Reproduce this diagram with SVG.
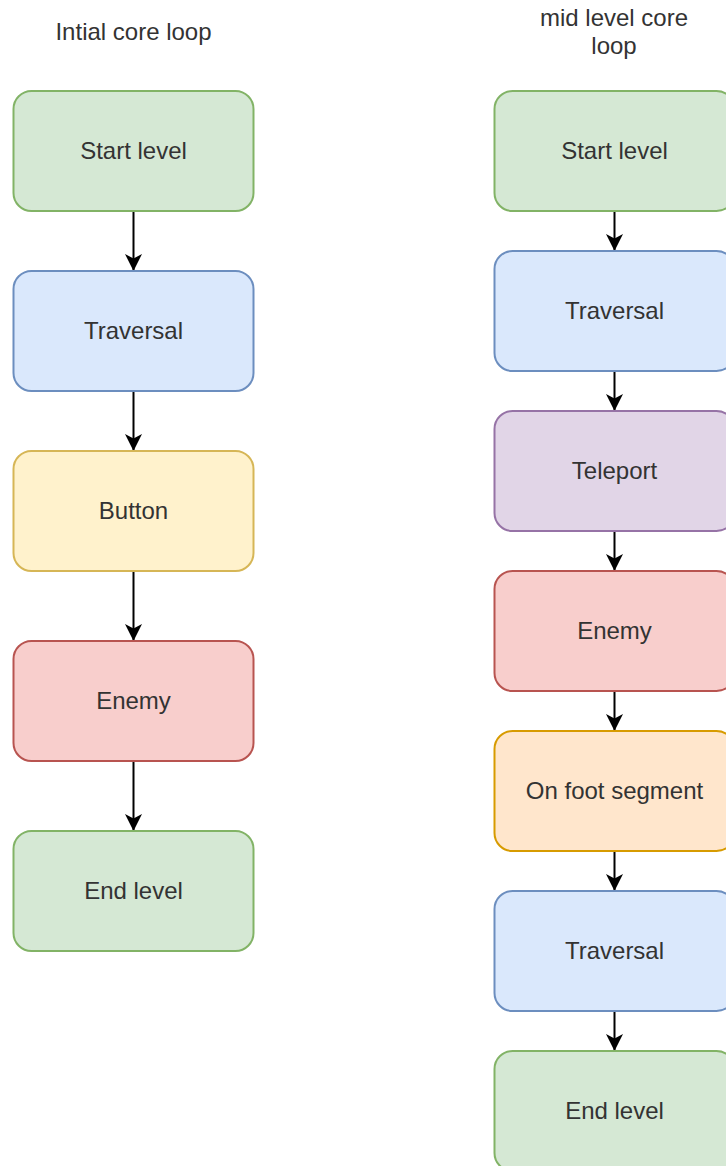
<svg xmlns="http://www.w3.org/2000/svg" width="726" height="1166" viewBox="0 0 726 1166">
<style>
  .box { stroke-width: 2; }
  .green { fill: #d5e8d4; stroke: #82b366; }
  .blue { fill: #dae8fc; stroke: #6c8ebf; }
  .yellow { fill: #fff2cc; stroke: #d6b656; }
  .red { fill: #f8cecc; stroke: #b85450; }
  .purple { fill: #e1d5e7; stroke: #9673a6; }
  .orange { fill: #ffe6cc; stroke: #d79b00; }
  text { font-family: "Liberation Sans", Arial, Helvetica, sans-serif; font-size: 24px; fill: #333333; text-anchor: middle; }
  .title { fill: #333333; }
  .edge { stroke: #000000; stroke-width: 2; fill: none; }
</style>
<defs>
  <marker id="arrow" markerUnits="userSpaceOnUse" markerWidth="18" markerHeight="18" refX="17" refY="8.5" orient="auto" viewBox="0 0 18 17">
    <path d="M0,0 L17,8.5 L0,17 L4.5,8.5 Z" fill="#000000"/>
  </marker>
</defs>
<rect width="726" height="1166" fill="#ffffff"/>
<g id="title-left"><text class="title" x="133.5" y="40">Intial core loop</text></g>
<g id="title-right"><text class="title" x="614" y="26">mid level core</text><text class="title" x="614" y="54">loop</text></g>

<g id="connectors">
  <line class="edge" x1="133.5" y1="211" x2="133.5" y2="271" marker-end="url(#arrow)"/>
  <line class="edge" x1="133.5" y1="391" x2="133.5" y2="451" marker-end="url(#arrow)"/>
  <line class="edge" x1="133.5" y1="571" x2="133.5" y2="641" marker-end="url(#arrow)"/>
  <line class="edge" x1="133.5" y1="761" x2="133.5" y2="831" marker-end="url(#arrow)"/>
  <line class="edge" x1="614.5" y1="211" x2="614.5" y2="251" marker-end="url(#arrow)"/>
  <line class="edge" x1="614.5" y1="371" x2="614.5" y2="411" marker-end="url(#arrow)"/>
  <line class="edge" x1="614.5" y1="531" x2="614.5" y2="571" marker-end="url(#arrow)"/>
  <line class="edge" x1="614.5" y1="691" x2="614.5" y2="731" marker-end="url(#arrow)"/>
  <line class="edge" x1="614.5" y1="851" x2="614.5" y2="891" marker-end="url(#arrow)"/>
  <line class="edge" x1="614.5" y1="1011" x2="614.5" y2="1051" marker-end="url(#arrow)"/>
</g>

<g id="l-start"><rect class="box green" x="13.5" y="91" width="240" height="120" rx="18"/><text x="133.5" y="159">Start level</text></g>
<g id="l-traversal"><rect class="box blue" x="13.5" y="271" width="240" height="120" rx="18"/><text x="133.5" y="339">Traversal</text></g>
<g id="l-button"><rect class="box yellow" x="13.5" y="451" width="240" height="120" rx="18"/><text x="133.5" y="519">Button</text></g>
<g id="l-enemy"><rect class="box red" x="13.5" y="641" width="240" height="120" rx="18"/><text x="133.5" y="709">Enemy</text></g>
<g id="l-end"><rect class="box green" x="13.5" y="831" width="240" height="120" rx="18"/><text x="133.5" y="899">End level</text></g>

<g id="r-start"><rect class="box green" x="494.5" y="91" width="240" height="120" rx="18"/><text x="614.5" y="159">Start level</text></g>
<g id="r-traversal1"><rect class="box blue" x="494.5" y="251" width="240" height="120" rx="18"/><text x="614.5" y="319">Traversal</text></g>
<g id="r-teleport"><rect class="box purple" x="494.5" y="411" width="240" height="120" rx="18"/><text x="614.5" y="479">Teleport</text></g>
<g id="r-enemy"><rect class="box red" x="494.5" y="571" width="240" height="120" rx="18"/><text x="614.5" y="639">Enemy</text></g>
<g id="r-onfoot"><rect class="box orange" x="494.5" y="731" width="240" height="120" rx="18"/><text x="614.5" y="799">On foot segment</text></g>
<g id="r-traversal2"><rect class="box blue" x="494.5" y="891" width="240" height="120" rx="18"/><text x="614.5" y="959">Traversal</text></g>
<g id="r-end"><rect class="box green" x="494.5" y="1051" width="240" height="120" rx="18"/><text x="614.5" y="1119">End level</text></g>
</svg>
